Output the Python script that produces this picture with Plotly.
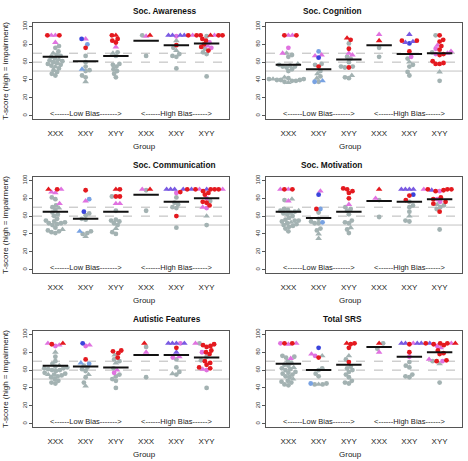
import math
import plotly.graph_objects as go

W, H = 468, 461

GROUP_LABELS = ["XXX", "XXY", "XYY", "XXX", "XXY", "XYY"]
PANEL_TITLES = ["Soc. Awareness", "Soc. Cognition", "Soc. Communication",
                "Soc. Motivation", "Autistic Features", "Total SRS"]
Y_TICKS = [0, 20, 40, 60, 80, 100]
SOLID_REF = 50
DASHED_REFS = [60, 70]
BIAS_TEXT = ["<------Low Bias------->", "<------High Bias------>"]
BIAS_X = [2, 5]
BIAS_Y = 2

# kind codes: g/G gray circle/triangle, r/R red, m/M magenta, b/B blue, l/L light blue
AWARE_VALUES = [
    [90, 90, 90, 90, 82, 78, 76, 72, 70, 68, 67, 66, 64, 63, 62, 61, 60, 59, 58, 57, 56, 55, 53, 51, 49, 47, 45],
    [86, 86, 80, 76, 67, 60, 55, 52, 51, 50, 45, 43, 38],
    [90, 90, 86, 84, 82, 77, 71, 70, 67, 58, 57, 55, 52, 50, 47, 43],
    [90, 89, 90, 67],
    [90, 90, 90, 90, 90, 89, 84, 79, 76, 73, 69, 67, 66, 53],
    [90, 90, 90, 90, 90, 90, 90, 89, 86, 84, 82, 80, 78, 77, 76, 75, 73, 71, 69, 44],
]
AWARE_KINDS = ["MMrrM" + "gggGggggGgggggggGggggg", "MblrgggLggggG", "RrrrrMgGgggggggg",
               "gMRg", "BBBBrmGrgGgggg", "RrMrrMrgrrmrMrmgrggg"]
AWARE_MEANS = [66, 61, 67, 84, 79, 81]

COG_VALUES = [
    [90, 90, 90, 90, 76, 70, 70, 68, 66, 58, 57, 56, 55, 55, 54, 52, 50, 43, 42, 41, 41, 41, 40, 40, 40, 39, 39, 38, 37],
    [72, 68, 67, 65, 58, 57, 55, 50, 47, 44, 42, 39, 38, 38],
    [87, 85, 81, 75, 70, 68, 66, 64, 60, 55, 55, 54, 54, 45, 43, 42],
    [91, 84, 76, 66],
    [91, 84, 84, 83, 82, 81, 72, 66, 64, 60, 57, 55, 49, 45],
    [90, 90, 85, 83, 79, 78, 75, 74, 72, 71, 70, 69, 69, 68, 61, 59, 58, 58, 49, 39],
]
COG_KINDS = ["MMrrmGMggGgggggggGgGggggggggG", "lMMbggrgGgGLgl", "RrgrMMgggggrgGgg",
             "MRgg", "BrrBBbrmgGgggg", "rgrrMrmrMgMrmrrrrrGg"]
COG_MEANS = [57, 52, 63, 79, 69, 70]

COMM_VALUES = [
    [90, 90, 90, 87, 86, 81, 79, 74, 72, 70, 69, 67, 64, 62, 60, 57, 55, 54, 53, 52, 52, 51, 50, 47, 45, 44, 43, 42, 41],
    [89, 79, 77, 65, 63, 61, 57, 56, 43, 43, 41, 40, 37],
    [90, 90, 82, 82, 82, 74, 74, 66, 56, 55, 54, 52, 50, 46, 42, 40],
    [90, 90, 89, 66],
    [90, 90, 90, 90, 90, 87, 86, 81, 75, 73, 70, 69, 60, 47],
    [90, 90, 90, 90, 90, 90, 90, 90, 88, 86, 84, 80, 77, 76, 75, 72, 70, 69, 60, 50],
]
COMM_KINDS = ["rMRMMggMggGgggggggggggggGgggg", "rlMbgggggLggG", "RrrrgMMggggggGgg",
              "MRgg", "BBBBrrmgggggrg", "BrMrrrBMrrrmgrrrMmGg"]
COMM_MEANS = [65, 57, 65, 84, 76, 80]

MOTIV_VALUES = [
    [90, 90, 90, 90, 79, 78, 77, 68, 67, 66, 66, 65, 64, 63, 62, 60, 58, 56, 55, 55, 54, 53, 52, 51, 50, 49, 48, 46, 43],
    [88, 84, 68, 68, 64, 57, 54, 53, 52, 52, 46, 44, 40, 35],
    [91, 90, 88, 86, 80, 73, 70, 68, 66, 62, 55, 53, 52, 47, 45, 41],
    [90, 80, 78, 59],
    [90, 90, 90, 90, 84, 83, 78, 76, 72, 70, 65, 60, 55, 54],
    [90, 90, 90, 90, 89, 89, 88, 88, 81, 79, 79, 76, 76, 74, 73, 72, 70, 68, 65, 45],
]
MOTIV_KINDS = ["MrrMGgM" + "gggGggggggggggGggggggg", "MblrggglggggGG", "rrrrrMgggggggGgg",
               "RMgg", "BBBBbrrggggGgg", "rrrMrBmrrmrmrrGgggrg"]
MOTIV_MEANS = [65, 58, 65, 77, 76, 79]

AUT_VALUES = [
    [90, 90, 89, 88, 87, 80, 75, 70, 67, 65, 64, 63, 62, 62, 61, 60, 60, 59, 57, 56, 55, 55, 54, 53, 52, 50, 48, 46, 45],
    [90, 88, 87, 72, 68, 67, 65, 63, 61, 59, 55, 52, 46, 42],
    [82, 81, 79, 77, 74, 72, 70, 68, 62, 60, 57, 55, 53, 50, 48, 40],
    [90, 86, 80, 52],
    [90, 90, 90, 90, 90, 85, 80, 75, 74, 72, 63, 58, 56, 55],
    [90, 90, 89, 88, 87, 86, 82, 80, 80, 78, 75, 71, 70, 68, 66, 63, 62, 61, 60, 40],
]
AUT_KINDS = ["RMrMmGg" + "ggGgggggggggggGggggggg", "bMmrLlggggGggG", "rrrGrggGgMmggggg",
             "RgMg", "BBmBBrBMmgggGg", "gMrrrrrrmrggrrrrrMmg"]
AUT_MEANS = [65, 64, 63, 77, 77, 74]

TOTAL_VALUES = [
    [90, 90, 90, 90, 89, 76, 75, 74, 73, 70, 68, 66, 65, 63, 62, 61, 60, 58, 57, 56, 55, 53, 52, 50, 48, 47, 46, 44, 43],
    [85, 78, 76, 76, 74, 62, 60, 56, 53, 45, 45, 44, 44, 44],
    [90, 90, 89, 85, 76, 72, 69, 64, 62, 60, 58, 55, 52, 48, 46, 45],
    [90, 90, 84, 80],
    [90, 90, 90, 90, 90, 89, 80, 75, 69, 65, 63, 55, 53, 52],
    [90, 90, 90, 90, 90, 90, 89, 88, 87, 85, 82, 79, 78, 72, 71, 70, 70, 70, 67, 46],
]
TOTAL_KINDS = ["rrMmMgggM" + "ggggGgggggggggGggggg", "bMmGrgggglgGgg",
               "RrrrGgrggggggggg", "RggM", "MBBBBrrmgggggg", "rrBMrRrrmMrrrMrrmgGg"]
TOTAL_MEANS = [67, 60, 66, 86, 75, 80]

PANELS = [
    (AWARE_VALUES, AWARE_KINDS, AWARE_MEANS),
    (COG_VALUES, COG_KINDS, COG_MEANS),
    (COMM_VALUES, COMM_KINDS, COMM_MEANS),
    (MOTIV_VALUES, MOTIV_KINDS, MOTIV_MEANS),
    (AUT_VALUES, AUT_KINDS, AUT_MEANS),
    (TOTAL_VALUES, TOTAL_KINDS, TOTAL_MEANS),
]

GRAY = "#a3b2b2"
KIND_STYLE = {
    "g": (GRAY, "circle"), "G": (GRAY, "triangle-up"),
    "r": ("#e4191f", "circle"), "R": ("#e4191f", "triangle-up"),
    "m": ("#e072e0", "circle"), "M": ("#e072e0", "triangle-up"),
    "b": ("#3a44dc", "circle"), "B": ("#7a5ae2", "triangle-up"),
    "l": ("#78a2e2", "circle"), "L": ("#78a2e2", "triangle-up"),
}
KIND_ORDER = "gGlLmMbBrR"

# layout geometry (pixels)
COL_X = [(33, 229), (266, 462)]
ROW_TOP = [20, 175, 330]
BOX_H = 97
XR = [0.26, 6.74]
YR = [-4, 104]
XPX = (COL_X[0][1] - COL_X[0][0]) / (XR[1] - XR[0])
YPX = BOX_H / (YR[1] - YR[0])
FONT = "Liberation Sans, Arial, Helvetica, sans-serif"


def swarm(values, d=4.0):
    order = sorted(range(len(values)), key=lambda i: values[i])
    placed = []
    offs = [0.0] * len(values)
    for i in order:
        y = values[i] * YPX
        cands = [0.0]
        for px, py in placed:
            dy = abs(py - y)
            if dy < d:
                dx = math.sqrt(d * d - dy * dy)
                cands += [px + dx, px - dx]
        nl = sum(1 for px, _ in placed if px < -0.01)
        nr = sum(1 for px, _ in placed if px > 0.01)

        def key(c):
            pref = 0 if ((c < 0 and nl <= nr) or (c > 0 and nr < nl)) else 1
            return (round(abs(c), 6), pref)

        best = 0.0
        for c in sorted(cands, key=key):
            if all((c - px) ** 2 + (y - py) ** 2 >= d * d - 1e-6 for px, py in placed):
                best = c
                break
        placed.append((best, y))
        offs[i] = best / XPX
    return offs


fig = go.Figure()
annotations = []
shapes = []
layout = {}

for p, (vals, kinds, means) in enumerate(PANELS):
    row, col = p // 2, p % 2
    xn = "x" if p == 0 else f"x{p+1}"
    yn = "y" if p == 0 else f"y{p+1}"
    xkey = "xaxis" if p == 0 else f"xaxis{p+1}"
    ykey = "yaxis" if p == 0 else f"yaxis{p+1}"
    x0, x1 = COL_X[col]
    top = ROW_TOP[row]
    bot = top + BOX_H
    xd = [x0 / W, x1 / W]
    yd = [1 - bot / H, 1 - top / H]

    layout[xkey] = dict(domain=xd, range=XR, anchor=yn, tickmode="array",
                        tickvals=list(range(1, 7)), ticktext=GROUP_LABELS,
                        ticks="", showline=True, mirror=True, linecolor="#555",
                        linewidth=1, showgrid=False, zeroline=False,
                        tickfont=dict(size=8, color="#222", family=FONT),
                        ticklabelstandoff=6)
    layout[ykey] = dict(domain=yd, range=YR, anchor=xn, tickmode="array",
                        tickvals=Y_TICKS, tickangle=-90, ticks="outside", ticklen=3,
                        tickcolor="#555", showline=True, mirror=True, linecolor="#555",
                        linewidth=1, showgrid=False, zeroline=False,
                        tickfont=dict(size=6, color="#333", family=FONT))

    # reference lines
    shapes.append(dict(type="line", xref=f"{xn} domain", yref=yn, x0=0, x1=1,
                       y0=SOLID_REF, y1=SOLID_REF, line=dict(color="#c4c4c4", width=1), layer="below"))
    for v in DASHED_REFS:
        shapes.append(dict(type="line", xref=f"{xn} domain", yref=yn, x0=0, x1=1,
                           y0=v, y1=v, line=dict(color="#b8b8b8", width=1, dash="dash"), layer="below"))

    # points
    pts = {k: ([], []) for k in KIND_ORDER}
    for g, (gv, gk) in enumerate(zip(vals, kinds)):
        offs = swarm(gv)
        for v, k, o in zip(gv, gk, offs):
            pts[k][0].append(g + 1 + o)
            pts[k][1].append(v)
    for k in KIND_ORDER:
        xs, ys = pts[k]
        if not xs:
            continue
        color, sym = KIND_STYLE[k]
        fig.add_trace(go.Scatter(x=xs, y=ys, mode="markers", xaxis=xn, yaxis=yn,
                                 showlegend=False, hoverinfo="skip",
                                 marker=dict(color=color, symbol=sym,
                                             size=4.8 if sym == "circle" else 5.8,
                                             line=dict(width=0))))

    # mean lines
    mx, my = [], []
    for g, m in enumerate(means):
        mx += [g + 1 - 0.42, g + 1 + 0.42, None]
        my += [m, m, None]
    fig.add_trace(go.Scatter(x=mx, y=my, mode="lines", xaxis=xn, yaxis=yn,
                             showlegend=False, hoverinfo="skip",
                             line=dict(color="#111", width=2)))

    # bias labels
    for t, bx in zip(BIAS_TEXT, BIAS_X):
        annotations.append(dict(text=t, x=bx, y=BIAS_Y, xref=xn, yref=yn, showarrow=False,
                                font=dict(size=7.5, color="#222", family=FONT)))

    # title
    annotations.append(dict(text=f"<b>{PANEL_TITLES[p]}</b>", x=(xd[0] + xd[1]) / 2,
                            y=1 - (top - 12) / H, xref="paper", yref="paper",
                            showarrow=False, yanchor="middle",
                            font=dict(size=8.3, color="#111", family=FONT)))
    # x title
    annotations.append(dict(text="Group", x=(xd[0] + xd[1]) / 2, y=1 - (bot + 27) / H,
                            xref="paper", yref="paper", showarrow=False, yanchor="middle",
                            font=dict(size=8, color="#222", family=FONT)))
    if col == 0:
        annotations.append(dict(text="T-score (high = impairment)", x=5 / W,
                                y=(yd[0] + yd[1]) / 2, xref="paper", yref="paper",
                                showarrow=False, textangle=-90, xanchor="center",
                                yanchor="middle",
                                font=dict(size=8, color="#222", family=FONT)))

fig.update_layout(width=W, height=H, margin=dict(l=0, r=0, t=0, b=0),
                  paper_bgcolor="white", plot_bgcolor="white",
                  annotations=annotations, shapes=shapes,
                  font=dict(family=FONT), **layout)

fig.write_html("out.html", config={"displayModeBar": False},
               post_script="document.body.style.margin='0';document.body.style.overflow='hidden';")
